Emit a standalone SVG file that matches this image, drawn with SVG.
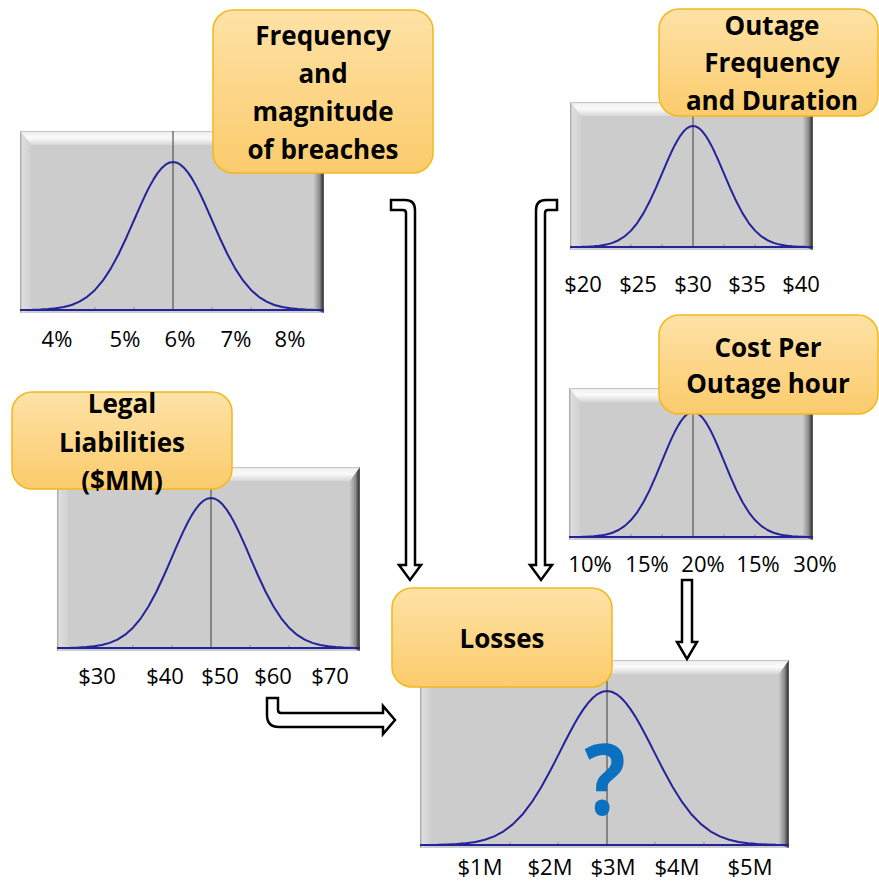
<svg xmlns="http://www.w3.org/2000/svg" xmlns:xlink="http://www.w3.org/1999/xlink" width="879" height="883" viewBox="0 0 879 883">
  <defs>
    <style>
      .plot { fill: #cccccc; }
      .bev-top { fill: url(#gTop); }
      .bev-left { fill: url(#gLeft); }
      .bev-right { fill: url(#gRight); }
      .mean { stroke: #555555; stroke-width: 1.2; }
      .tick { stroke: #8c8c8c; stroke-width: 1; }
      .tail { stroke: #23239a; stroke-width: 2; }
      .bell { fill: none; stroke: #23239a; stroke-width: 2; stroke-linejoin: round; }
      .box { fill: url(#gBox); stroke: #f2b81c; stroke-width: 1.5; }
      .lbl { font-family: "Open Sans", "Liberation Sans", sans-serif; font-weight: bold; font-size: 26px; text-anchor: middle; fill: #000000; }
      .ax { font-family: "Open Sans", "Liberation Sans", sans-serif; font-size: 22px; text-anchor: middle; fill: #000000; }
      .arrow { fill: #ffffff; stroke: #000000; stroke-width: 2.5; stroke-linejoin: miter; }
      .qm { font-family: "Open Sans", "Liberation Sans", sans-serif; font-weight: bold; font-size: 98px; text-anchor: middle; fill: #0a70bf; }
    </style>
    <linearGradient id="gTop" x1="0" y1="0" x2="0" y2="1">
      <stop offset="0" stop-color="#b4b4b4"/>
      <stop offset="0.12" stop-color="#f2f2f2"/>
      <stop offset="0.5" stop-color="#fafafa"/>
      <stop offset="1" stop-color="#d6d6d6"/>
    </linearGradient>
    <linearGradient id="gLeft" x1="0" y1="0" x2="1" y2="0">
      <stop offset="0" stop-color="#9e9e9e"/>
      <stop offset="0.2" stop-color="#dedede"/>
      <stop offset="1" stop-color="#d0d0d0"/>
    </linearGradient>
    <linearGradient id="gRight" x1="0" y1="0" x2="1" y2="0">
      <stop offset="0" stop-color="#c6c6c6"/>
      <stop offset="0.55" stop-color="#8c8c8c"/>
      <stop offset="0.88" stop-color="#3c3c3c"/>
      <stop offset="1" stop-color="#6e6e6e"/>
    </linearGradient>
    <linearGradient id="gBox" x1="0" y1="0" x2="0" y2="1">
      <stop offset="0" stop-color="#fee2a6"/>
      <stop offset="1" stop-color="#fbcb6c"/>
    </linearGradient>
    <!-- unit normal curve: x in sigma units, height 1 -->
    <path id="bell" class="bell" vector-effect="non-scaling-stroke"
      d="M-3.6,-0.0015 L-3.4,-0.0031 L-3.2,-0.0060 L-3.0,-0.0111 L-2.8,-0.0198 L-2.6,-0.0340 L-2.4,-0.0561 L-2.2,-0.0889 L-2.0,-0.1353 L-1.8,-0.1979 L-1.6,-0.2780 L-1.4,-0.3753 L-1.2,-0.4868 L-1.1,-0.5461 L-1.0,-0.6065 L-0.9,-0.6670 L-0.8,-0.7261 L-0.7,-0.7827 L-0.6,-0.8353 L-0.5,-0.8825 L-0.4,-0.9231 L-0.3,-0.9560 L-0.2,-0.9802 L-0.1,-0.9950 L0,-1 L0.1,-0.9950 L0.2,-0.9802 L0.3,-0.9560 L0.4,-0.9231 L0.5,-0.8825 L0.6,-0.8353 L0.7,-0.7827 L0.8,-0.7261 L0.9,-0.6670 L1.0,-0.6065 L1.1,-0.5461 L1.2,-0.4868 L1.4,-0.3753 L1.6,-0.2780 L1.8,-0.1979 L2.0,-0.1353 L2.2,-0.0889 L2.4,-0.0561 L2.6,-0.0340 L2.8,-0.0198 L3.0,-0.0111 L3.2,-0.0060 L3.4,-0.0031 L3.6,-0.0015"/>
  </defs>

  <rect width="879" height="883" fill="#ffffff"/>

  <!-- Breach frequency distribution -->
  <g id="chart-breaches">
    <rect class="plot" x="20" y="131" width="304" height="182"/>
    <polygon class="bev-top" points="20,131 324,131 314,145 31,145"/>
    <polygon class="bev-left" points="20,131 31,145 31,310 20,313"/>
    <polygon class="bev-right" points="324,131 324,313 314,310 314,145"/>
    <line class="mean" x1="173" y1="131" x2="173" y2="310"/>
    <path class="tick" d="M56,307V311 M95,307V311 M134,307V311 M212,307V311 M251,307V311 M290,307V311"/>
    <line class="tail" x1="20" y1="310" x2="324" y2="310"/>
    <use href="#bell" transform="translate(173,310) scale(39,148)"/>
    <text class="ax" x="57" y="347">4%</text>
    <text class="ax" x="125" y="347">5%</text>
    <text class="ax" x="180" y="347">6%</text>
    <text class="ax" x="236" y="347">7%</text>
    <text class="ax" x="290" y="347">8%</text>
  </g>

  <!-- Legal liabilities distribution -->
  <g id="chart-legal">
    <rect class="plot" x="57" y="467" width="303" height="184"/>
    <polygon class="bev-top" points="57,467 360,467 350,481 68,481"/>
    <polygon class="bev-left" points="57,467 68,481 68,648 57,651"/>
    <polygon class="bev-right" points="360,467 360,651 350,648 350,481"/>
    <line class="mean" x1="211" y1="467" x2="211" y2="648"/>
    <path class="tick" d="M94,645V649 M133,645V649 M172,645V649 M250,645V649 M289,645V649 M328,645V649"/>
    <line class="tail" x1="57" y1="648" x2="360" y2="648"/>
    <use href="#bell" transform="translate(211,648) scale(39,150)"/>
    <text class="ax" x="97" y="684">$30</text>
    <text class="ax" x="165" y="684">$40</text>
    <text class="ax" x="220" y="684">$50</text>
    <text class="ax" x="273" y="684">$60</text>
    <text class="ax" x="330" y="684">$70</text>
  </g>

  <!-- Outage frequency and duration distribution -->
  <g id="chart-outage">
    <rect class="plot" x="570" y="102" width="243" height="148"/>
    <polygon class="bev-top" points="570,102 813,102 803,116 581,116"/>
    <polygon class="bev-left" points="570,102 581,116 581,247 570,250"/>
    <polygon class="bev-right" points="813,102 813,250 803,247 803,116"/>
    <line class="mean" x1="693" y1="102" x2="693" y2="247"/>
    <path class="tick" d="M600,244V248 M631,244V248 M662,244V248 M724,244V248 M755,244V248 M786,244V248"/>
    <line class="tail" x1="570" y1="247" x2="813" y2="247"/>
    <use href="#bell" transform="translate(693,247) scale(31,121)"/>
    <text class="ax" x="583" y="292">$20</text>
    <text class="ax" x="638" y="292">$25</text>
    <text class="ax" x="693" y="292">$30</text>
    <text class="ax" x="747" y="292">$35</text>
    <text class="ax" x="801" y="292">$40</text>
  </g>

  <!-- Cost per outage hour distribution -->
  <g id="chart-cost">
    <rect class="plot" x="569" y="388" width="244" height="152"/>
    <polygon class="bev-top" points="569,388 813,388 803,402 580,402"/>
    <polygon class="bev-left" points="569,388 580,402 580,537 569,540"/>
    <polygon class="bev-right" points="813,388 813,540 803,537 803,402"/>
    <line class="mean" x1="693" y1="388" x2="693" y2="537"/>
    <path class="tick" d="M600,534V538 M631,534V538 M662,534V538 M724,534V538 M755,534V538 M786,534V538"/>
    <line class="tail" x1="569" y1="537" x2="813" y2="537"/>
    <use href="#bell" transform="translate(693,537) scale(31,125)"/>
    <text class="ax" x="590" y="572">10%</text>
    <text class="ax" x="647" y="572">15%</text>
    <text class="ax" x="703" y="572">20%</text>
    <text class="ax" x="758" y="572">15%</text>
    <text class="ax" x="815" y="572">30%</text>
  </g>

  <!-- Resulting losses distribution -->
  <g id="chart-losses">
    <rect class="plot" x="420" y="660" width="369" height="188"/>
    <polygon class="bev-top" points="420,660 789,660 779,674 431,674"/>
    <polygon class="bev-left" points="420,660 431,674 431,845 420,848"/>
    <polygon class="bev-right" points="789,660 789,848 779,845 779,674"/>
    <line class="mean" x1="607" y1="660" x2="607" y2="845"/>
    <path class="tick" d="M462,842V846 M510,842V846 M558,842V846 M655,842V846 M704,842V846 M752,842V846"/>
    <line class="tail" x1="420" y1="845" x2="789" y2="845"/>
    <use href="#bell" transform="translate(607,845) scale(47,154)"/>
    <text class="qm" transform="translate(605,815) scale(0.88,1)">?</text>
    <text class="ax" x="480" y="875">$1M</text>
    <text class="ax" x="550" y="875">$2M</text>
    <text class="ax" x="613" y="875">$3M</text>
    <text class="ax" x="677" y="875">$4M</text>
    <text class="ax" x="750" y="875">$5M</text>
  </g>

  <!-- Connectors -->
  <g id="connectors">
    <path class="arrow" d="M391,200 H405 Q415,200 415,210 V565 H421 L410,580 L399,565 H406 V213 Q406,210 403,210 H391 Z"/>
    <path class="arrow" d="M557,200 H546 Q536,200 536,210 V565 H530 L541,580 L552,565 H545 V213 Q545,210 548,210 H557 Z"/>
    <path class="arrow" d="M267,698 H278 V710 Q278,713 281,713 H383 V706 L395,720 L383,734 V727 H279 Q267,727 267,715 Z"/>
    <path class="arrow" d="M682,580 H692 V642 H697 L687,659 L677,642 H682 Z"/>
  </g>

  <!-- Labels -->
  <g id="label-breaches">
    <rect class="box" x="213" y="10" width="220" height="163" rx="20"/>
    <text class="lbl" x="323" y="45">Frequency</text>
    <text class="lbl" x="323" y="83">and</text>
    <text class="lbl" x="323" y="121">magnitude</text>
    <text class="lbl" x="323" y="159">of breaches</text>
  </g>
  <g id="label-outage">
    <rect class="box" x="659" y="9" width="219" height="107" rx="20"/>
    <text class="lbl" x="772" y="35">Outage</text>
    <text class="lbl" x="772" y="72">Frequency</text>
    <text class="lbl" x="772" y="110">and Duration</text>
  </g>
  <g id="label-cost">
    <rect class="box" x="659" y="315" width="219" height="99" rx="20"/>
    <text class="lbl" x="768" y="357">Cost Per</text>
    <text class="lbl" x="768" y="393">Outage hour</text>
  </g>
  <g id="label-legal">
    <rect class="box" x="12" y="392" width="220" height="97" rx="20"/>
    <text class="lbl" x="122" y="413">Legal</text>
    <text class="lbl" x="122" y="452">Liabilities</text>
    <text class="lbl" x="122" y="490">($MM)</text>
  </g>
  <g id="label-losses">
    <rect class="box" x="392" y="588" width="220" height="99" rx="20"/>
    <text class="lbl" x="502" y="648">Losses</text>
  </g>
</svg>
